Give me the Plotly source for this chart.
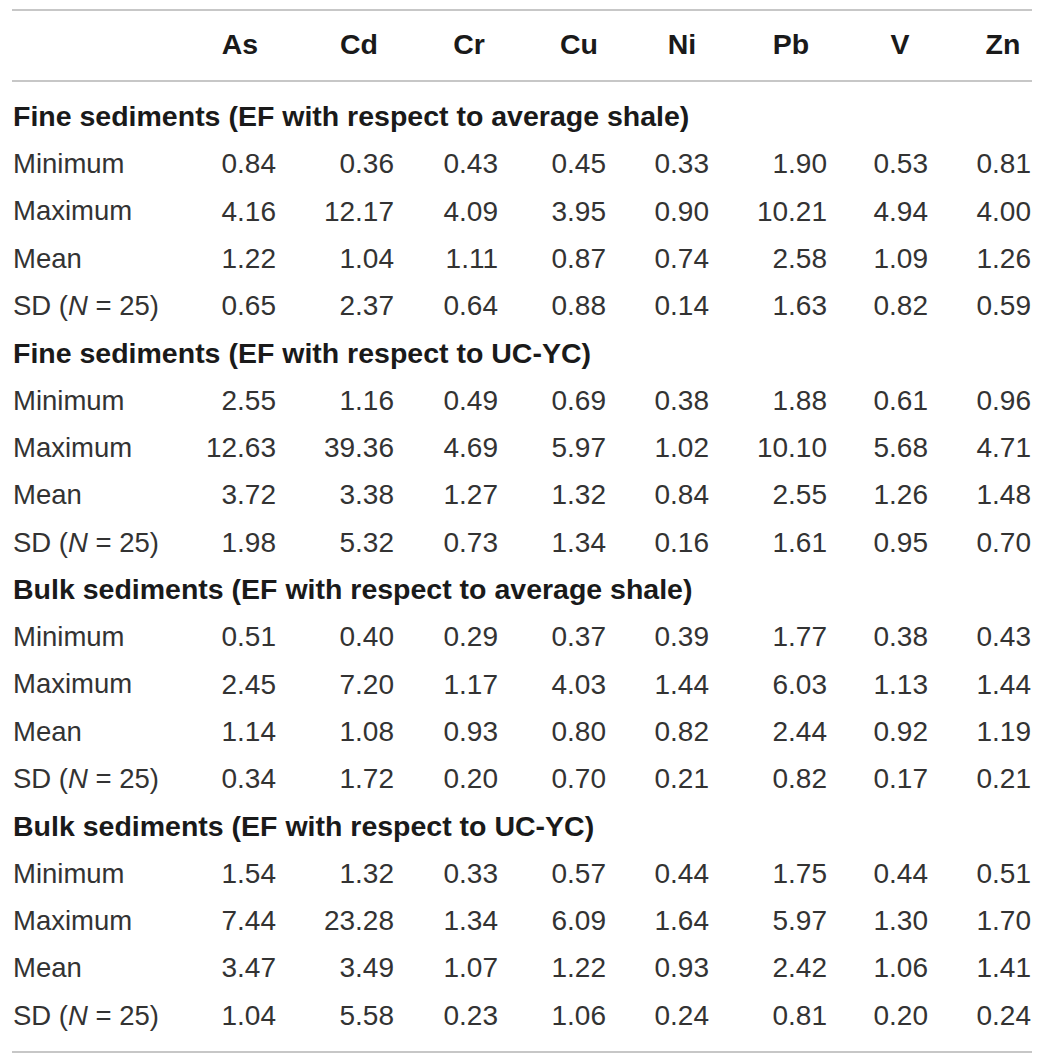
import plotly.graph_objects as go

# ---------------- data ----------------
elements = ["As", "Cd", "Cr", "Cu", "Ni", "Pb", "V", "Zn"]
section_titles = [
    "Fine sediments (EF with respect to average shale)",
    "Fine sediments (EF with respect to UC-YC)",
    "Bulk sediments (EF with respect to average shale)",
    "Bulk sediments (EF with respect to UC-YC)",
]
stat_labels = ["Minimum", "Maximum", "Mean", "SD (<i>N</i> = 25)"]

fine_shale_min = [0.84, 0.36, 0.43, 0.45, 0.33, 1.90, 0.53, 0.81]
fine_shale_max = [4.16, 12.17, 4.09, 3.95, 0.90, 10.21, 4.94, 4.00]
fine_shale_mean = [1.22, 1.04, 1.11, 0.87, 0.74, 2.58, 1.09, 1.26]
fine_shale_sd = [0.65, 2.37, 0.64, 0.88, 0.14, 1.63, 0.82, 0.59]

fine_ucyc_min = [2.55, 1.16, 0.49, 0.69, 0.38, 1.88, 0.61, 0.96]
fine_ucyc_max = [12.63, 39.36, 4.69, 5.97, 1.02, 10.10, 5.68, 4.71]
fine_ucyc_mean = [3.72, 3.38, 1.27, 1.32, 0.84, 2.55, 1.26, 1.48]
fine_ucyc_sd = [1.98, 5.32, 0.73, 1.34, 0.16, 1.61, 0.95, 0.70]

bulk_shale_min = [0.51, 0.40, 0.29, 0.37, 0.39, 1.77, 0.38, 0.43]
bulk_shale_max = [2.45, 7.20, 1.17, 4.03, 1.44, 6.03, 1.13, 1.44]
bulk_shale_mean = [1.14, 1.08, 0.93, 0.80, 0.82, 2.44, 0.92, 1.19]
bulk_shale_sd = [0.34, 1.72, 0.20, 0.70, 0.21, 0.82, 0.17, 0.21]

bulk_ucyc_min = [1.54, 1.32, 0.33, 0.57, 0.44, 1.75, 0.44, 0.51]
bulk_ucyc_max = [7.44, 23.28, 1.34, 6.09, 1.64, 5.97, 1.30, 1.70]
bulk_ucyc_mean = [3.47, 3.49, 1.07, 1.22, 0.93, 2.42, 1.06, 1.41]
bulk_ucyc_sd = [1.04, 5.58, 0.23, 1.06, 0.24, 0.81, 0.20, 0.24]

sections = [
    [fine_shale_min, fine_shale_max, fine_shale_mean, fine_shale_sd],
    [fine_ucyc_min, fine_ucyc_max, fine_ucyc_mean, fine_ucyc_sd],
    [bulk_shale_min, bulk_shale_max, bulk_shale_mean, bulk_shale_sd],
    [bulk_ucyc_min, bulk_ucyc_max, bulk_ucyc_mean, bulk_ucyc_sd],
]

# ---------------- layout constants ----------------
W, H = 1052, 1063
FONT = "Liberation Sans, Arial, Helvetica, sans-serif"
FS_LABEL = 27.5
FS_NUM = 28
FS_BOLD = 28.5
TXT = "#333333"
HDR = "#1a1a1a"
LINE = "#b4b4b4"

col_right = [276, 394, 498, 606, 709, 827, 928, 1031]
col_head = [240, 359, 469, 579, 682, 791, 900, 1003]
label_x = 13
header_y = 47
first_y = 119
step = 47.3
rule_left, rule_right = 12, 1032
rule_ys = [10, 81, 1052]

# compute row positions
sec_y, lab_y, lab_t = [], [], []
cell_y = [[] for _ in elements]
cell_t = [[] for _ in elements]
r = 0
for s, title in enumerate(section_titles):
    sec_y.append(first_y + r * step)
    r += 1
    for k, lab in enumerate(stat_labels):
        y = first_y + r * step
        lab_y.append(y)
        lab_t.append(lab)
        for c in range(len(elements)):
            cell_y[c].append(y)
            cell_t[c].append(f"{sections[s][k][c]:.2f}")
        r += 1

fig = go.Figure()

# column headers
fig.add_trace(go.Scatter(
    x=col_head, y=[header_y] * len(elements), mode="text",
    text=[f"<b>{e}</b>" for e in elements], textposition="middle center",
    textfont=dict(family=FONT, size=FS_BOLD, color=HDR), hoverinfo="skip"))

# section titles
fig.add_trace(go.Scatter(
    x=[label_x] * len(section_titles), y=sec_y, mode="text",
    text=[f"<b>{t}</b>" for t in section_titles], textposition="middle right",
    textfont=dict(family=FONT, size=FS_BOLD, color=HDR), hoverinfo="skip"))

# row labels
fig.add_trace(go.Scatter(
    x=[label_x] * len(lab_y), y=lab_y, mode="text", text=lab_t,
    textposition="middle right",
    textfont=dict(family=FONT, size=FS_LABEL, color=TXT), hoverinfo="skip"))

# numeric cells
for c, e in enumerate(elements):
    fig.add_trace(go.Scatter(
        x=[col_right[c]] * len(cell_y[c]), y=cell_y[c], mode="text",
        text=cell_t[c], textposition="middle left",
        textfont=dict(family=FONT, size=FS_NUM, color=TXT), hoverinfo="skip",
        name=e))

for y in rule_ys:
    fig.add_shape(type="line", xref="x", yref="y", x0=rule_left, x1=rule_right,
                  y0=y, y1=y, line=dict(color=LINE, width=1.5))

fig.update_layout(
    width=W, height=H, margin=dict(l=0, r=0, t=0, b=0),
    paper_bgcolor="white", plot_bgcolor="white", showlegend=False,
    xaxis=dict(range=[0, W], visible=False, fixedrange=True),
    yaxis=dict(range=[H, 0], visible=False, fixedrange=True),
)

fig.write_html("out.html", config={"displayModeBar": False},
               post_script="document.body.style.margin='0';")
